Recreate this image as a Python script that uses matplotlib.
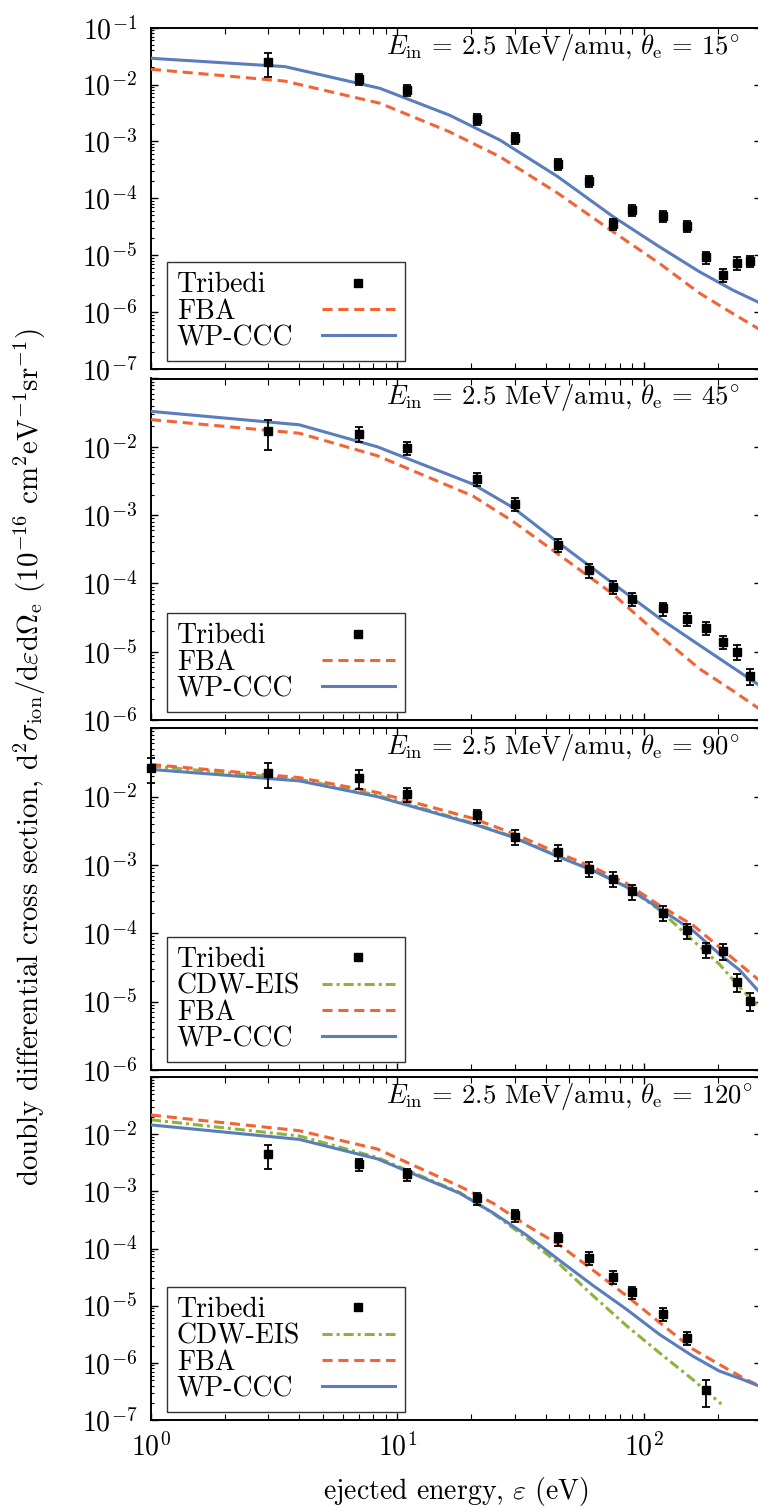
import matplotlib
matplotlib.use('Agg')
import matplotlib.pyplot as plt
import numpy as np
from matplotlib.lines import Line2D
from matplotlib.ticker import LogLocator, NullFormatter, FixedLocator

FS = 20
plt.rcParams.update({
    'font.family': 'serif',
    'font.serif': ['cmr10', 'DejaVu Serif'],
    'mathtext.fontset': 'cm',
    'axes.formatter.use_mathtext': True,
    'font.size': FS,
    'axes.linewidth': 1.4,
    'xtick.direction': 'in', 'ytick.direction': 'in',
    'xtick.top': True, 'ytick.right': True,
    'xtick.major.size': 5, 'ytick.major.size': 5,
    'xtick.minor.size': 4, 'ytick.minor.size': 2.5,
    'xtick.major.width': 1.0, 'ytick.major.width': 1.0,
    'xtick.minor.width': 0.8, 'ytick.minor.width': 0.8,
})

# ---------------- data ----------------
angles = [15, 45, 90, 120]
ylims = [(1e-7, 1e-1), (1e-6, 1e-1), (1e-6, 1e-1), (1e-7, 1e-1)]

# experimental (Tribedi)
E_exp = [3, 7, 11, 21, 30, 45, 60, 75, 90, 120, 150, 180, 210, 240, 270]
exp15 = [0.0247, 0.0126, 0.0080, 2.5e-3, 1.14e-3, 4.0e-4, 2.0e-4, 3.5e-5, 6.3e-5,
         4.9e-5, 3.3e-5, 9.2e-6, 4.5e-6, 7.4e-6, 8.0e-6]
rel15 = [0.45, 0.22, 0.22, 0.22, 0.22, 0.22, 0.22, 0.22, 0.22, 0.22, 0.22, 0.25, 0.25, 0.25, 0.22]
exp45 = [0.0168, 0.0155, 9.7e-3, 3.4e-3, 1.45e-3, 3.7e-4, 1.56e-4, 9.0e-5, 5.9e-5,
         4.3e-5, 3.0e-5, 2.25e-5, 1.4e-5, 1.0e-5, 4.4e-6]
rel45 = [0.46, 0.25, 0.22, 0.22, 0.22, 0.22, 0.22, 0.22, 0.22, 0.22, 0.22, 0.22, 0.22, 0.25, 0.25]
E_exp90 = [1, 3, 7, 11, 21, 30, 45, 60, 75, 90, 120, 150, 180, 210, 240, 270]
exp90 = [0.026, 0.0223, 0.0187, 0.0108, 5.3e-3, 2.6e-3, 1.55e-3, 8.8e-4, 6.3e-4, 4.1e-4,
         2.0e-4, 1.1e-4, 5.8e-5, 5.5e-5, 1.95e-5, 1.03e-5]
rel90 = [0.4, 0.41, 0.3, 0.22, 0.22, 0.25, 0.25, 0.25, 0.25, 0.25, 0.25, 0.25, 0.25, 0.25, 0.3, 0.3]
E_exp120 = [3, 7, 11, 21, 30, 45, 60, 75, 90, 120, 150, 180]
exp120 = [4.46e-3, 3.0e-3, 2.0e-3, 7.6e-4, 3.8e-4, 1.5e-4, 6.9e-5, 3.2e-5, 1.73e-5,
          7.2e-6, 2.75e-6, 3.4e-7]
rel120 = [0.45, 0.25, 0.25, 0.25, 0.25, 0.25, 0.25, 0.25, 0.25, 0.25, 0.25, 0.5]

# theory curves
E_th15 = [1, 3.5, 8.5, 16.3, 26.1, 44.9, 75.1, 116, 169, 230, 300]
wp15 = [0.029, 0.0207, 0.0086, 2.9e-3, 1.06e-3, 2.4e-4, 4.8e-5, 1.41e-5, 5.1e-6, 2.45e-6, 1.42e-6]
fba15 = [0.0186, 0.0115, 4.7e-3, 1.48e-3, 5.4e-4, 1.23e-4, 2.6e-5, 7.2e-6, 2.15e-6, 9.5e-7, 4.8e-7]

E_th45 = [1, 4, 8.3, 20.3, 29.5, 44.9, 75.1, 116, 169, 230, 300]
wp45 = [0.033, 0.021, 0.0100, 2.84e-3, 1.29e-3, 4.0e-4, 1.0e-4, 3.1e-5, 1.24e-5, 5.9e-6, 3.1e-6]
fba45 = [0.025, 0.0158, 7.4e-3, 1.9e-3, 8.1e-4, 2.7e-4, 7.0e-5, 1.74e-5, 5.6e-6, 2.7e-6, 1.4e-6]

E_th90 = [1, 4, 8.3, 20.3, 29.5, 45.6, 62.3, 85.1, 116, 158.6, 203, 245.6, 300]
wp90 = [0.025, 0.017, 0.0100, 4.0e-3, 2.55e-3, 1.3e-3, 8.3e-4, 4.8e-4, 2.3e-4, 1.1e-4,
        5.0e-5, 2.9e-5, 1.3e-5]
fba90 = [0.0295, 0.019, 0.0115, 4.8e-3, 2.9e-3, 1.47e-3, 9.3e-4, 5.4e-4, 2.57e-4, 1.32e-4,
         6.3e-5, 3.55e-5, 1.95e-5]
cdw90 = [0.028, 0.018, 0.0105, 4.1e-3, 2.6e-3, 1.32e-3, 8.4e-4, 4.8e-4, 2.2e-4, 7.9e-5,
         3.55e-5, 1.62e-5, 7.8e-6]

E_th120 = [1, 4, 8.3, 17.9, 24.5, 33.4, 45.6, 62.3, 85.1, 116, 158.6, 203, 253, 300]
wp120 = [0.0145, 8.1e-3, 3.7e-3, 9.3e-4, 4.2e-4, 1.73e-4, 6.2e-5, 2.26e-5, 8.7e-6, 3.15e-6,
         1.31e-6, 7.2e-7, 5.1e-7, 3.8e-7]
fba120 = [0.0216, 0.0115, 5.5e-3, 1.23e-3, 6.2e-4, 2.57e-4, 1.15e-4, 4.2e-5, 1.5e-5, 5.1e-6,
          1.74e-6, 9.4e-7, 5.5e-7, 3.8e-7]
E_cdw120 = [1, 4, 8.3, 17.9, 24.5, 33.4, 45.6, 62.3, 85.1, 116, 158.6, 207]
cdw120 = [0.0178, 9.3e-3, 3.9e-3, 9.6e-4, 4.1e-4, 1.55e-4, 5.3e-5, 1.5e-5, 4.5e-6, 1.5e-6,
          5.1e-7, 1.9e-7]

panels = [
    dict(Ee=E_exp, ye=exp15, re=rel15, Et=E_th15, wp=wp15, fba=fba15, Ec=None, cdw=None),
    dict(Ee=E_exp, ye=exp45, re=rel45, Et=E_th45, wp=wp45, fba=fba45, Ec=None, cdw=None),
    dict(Ee=E_exp90, ye=exp90, re=rel90, Et=E_th90, wp=wp90, fba=fba90, Ec=E_th90, cdw=cdw90),
    dict(Ee=E_exp120, ye=exp120, re=rel120, Et=E_th120, wp=wp120, fba=fba120, Ec=E_cdw120, cdw=cdw120),
]

C_WP = '#5a7dbb'
C_FBA = '#f26336'
C_CDW = '#8db43a'
LW = 2.2

W, H = 758, 1506
fig = plt.figure(figsize=(W / 100, H / 100), dpi=100)

left_px, right_px = 151, 761
tops = [27.7, 378.5, 728.3, 1077]
bots = [369, 720, 1070, 1420]

for i, p in enumerate(panels):
    ax = fig.add_axes([left_px / W, 1 - bots[i] / H, (right_px - left_px) / W,
                       (bots[i] - tops[i]) / H])
    ax.set_xscale('log')
    ax.set_yscale('log')
    ax.set_xlim(1, 300)
    ax.set_ylim(*ylims[i])

    hc = None
    if p['cdw'] is not None:
        hc, = ax.plot(p['Ec'], p['cdw'], color=C_CDW, lw=LW, ls=(0, (3.3, 1.3, 1.0, 1.3)),
                      label='CDW-EIS', zorder=2)
    hf, = ax.plot(p['Et'], p['fba'], color=C_FBA, lw=LW, ls=(0, (3.3, 1.9)), label='FBA', zorder=3)
    hw, = ax.plot(p['Et'], p['wp'], color=C_WP, lw=LW, ls='-', label='WP-CCC', zorder=4)

    ye = np.array(p['ye'])
    err = ye * np.array(p['re'])
    eb = ax.errorbar(p['Ee'], ye, yerr=err, fmt='s', color='k', ms=5.5, capsize=3.0,
                     elinewidth=1.3, capthick=1.3, zorder=5)
    for art in [eb[0], *eb[1], *eb[2]]:
        art.set_clip_on(False)

    ht = Line2D([], [], ls='none', marker='s', color='k', ms=5.5)
    handles = [ht] + ([hc] if hc is not None else []) + [hf, hw]
    labels = ['Tribedi'] + (['CDW-EIS'] if hc is not None else []) + ['FBA', 'WP-CCC']
    leg = ax.legend(handles, labels, loc='lower left', bbox_to_anchor=(0.026, 0.023),
                    borderaxespad=0, markerfirst=False, fancybox=False, frameon=True,
                    edgecolor='#333333', framealpha=1, handlelength=2.63, handletextpad=1.0,
                    labelspacing=0.0, borderpad=0.36, fontsize=FS)
    leg.get_frame().set_linewidth(1.0)
    try:
        for col in leg._legend_handle_box.get_children():
            for entry in col.get_children():
                entry.mode = 'expand'
                entry.width = 218
    except Exception:
        pass

    ax.text(0.385, 0.943,
            r'$E_{\rm in}$ = 2.5 MeV/amu, $\theta_{\rm e}$ = $%d^{\circ}$' % angles[i],
            transform=ax.transAxes, ha='left', va='center', fontsize=19.2)

    lo = int(round(np.log10(ylims[i][0])))
    yt = [10.0 ** k for k in range(lo, 0)]
    ylab = ['$10^{%d}$' % k for k in range(lo, 0)]
    if i > 0:
        ylab[-1] = ''
    ax.yaxis.set_major_locator(FixedLocator(yt))
    ax.set_yticklabels(ylab)
    ax.yaxis.set_minor_locator(LogLocator(base=10, subs=np.arange(2, 10), numticks=30))
    ax.yaxis.set_minor_formatter(NullFormatter())

    ax.xaxis.set_major_locator(FixedLocator([1, 10, 100]))
    ax.xaxis.set_minor_locator(LogLocator(base=10, subs=np.arange(2, 10), numticks=30))
    ax.xaxis.set_minor_formatter(NullFormatter())
    if i == 3:
        ax.set_xticklabels(['$10^{0}$', '$10^{1}$', '$10^{2}$'])
        ax.set_xlabel(r'ejected energy, $\varepsilon$ (eV)', labelpad=10)
    else:
        ax.set_xticklabels(['', '', ''])
    ax.tick_params(axis='y', which='both', pad=10)
    ax.tick_params(axis='x', which='both', pad=9)

fig.text(30 / W, 1 - 757 / H,
         r'doubly differential cross section, d$^2\sigma_{\rm ion}$/d$\varepsilon$d$\Omega_{\rm e}$ '
         r'($10^{-16}$ cm$^2$eV$^{-1}$sr$^{-1}$)',
         rotation=90, ha='center', va='center', fontsize=20.8)

fig.savefig('out.png', dpi=100)
